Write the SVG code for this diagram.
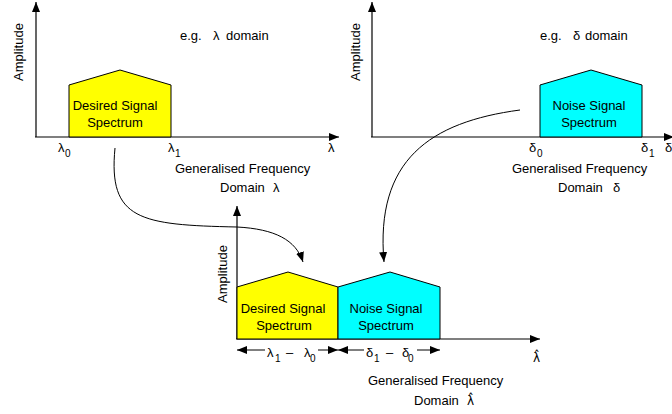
<svg xmlns="http://www.w3.org/2000/svg" width="672" height="414" viewBox="0 0 672 414">
<style>
text{font-family:"Liberation Sans",Arial,sans-serif;font-size:13px;fill:#000}
.sub{font-size:10px}
.hat{font-family:"DejaVu Sans",sans-serif;font-size:12px}
.ax{stroke:#000;stroke-width:1.2;fill:none}
.conn{stroke:#000;stroke-width:1;fill:none}
.yel{fill:#ffff00;stroke:#000;stroke-width:1}
.cya{fill:#00ffff;stroke:#000;stroke-width:1}
.mid{text-anchor:middle}
</style>
<defs>
<marker id="ah" markerUnits="userSpaceOnUse" markerWidth="11" markerHeight="8" refX="10" refY="4" orient="auto">
<path d="M0,0 L10,4 L0,8 z" fill="#000"/>
</marker>
</defs>
<rect width="672" height="414" fill="#fff"/>

<g id="panel-lambda">
<line class="ax" x1="36" y1="137" x2="36" y2="2" marker-end="url(#ah)"/>
<line class="ax" x1="35" y1="137" x2="339" y2="137" marker-end="url(#ah)"/>
<text class="mid" transform="translate(23,52) rotate(-90)">Amplitude</text>
<text x="180" y="40">e.g.</text>
<text x="213" y="40">λ</text>
<text x="226" y="40">domain</text>
<text x="58" y="152">λ</text><text class="sub" x="65" y="157">0</text>
<text x="168" y="152">λ</text><text class="sub" x="175" y="157">1</text>
<text x="328" y="152">λ</text>
<text x="175" y="173">Generalised Frequency</text>
<text x="220" y="192">Domain</text>
<text x="273" y="192">λ</text>
</g>

<g id="desired-spectrum">
<polygon class="yel" points="69,137 69,85 120,70 171,85 171,137"/>
<text class="mid" x="115" y="110">Desired Signal</text>
<text class="mid" x="115" y="127">Spectrum</text>
</g>

<g id="panel-delta">
<line class="ax" x1="372" y1="137" x2="372" y2="2" marker-end="url(#ah)"/>
<line class="ax" x1="371" y1="137" x2="674" y2="137" marker-end="url(#ah)"/>
<text class="mid" transform="translate(360,52) rotate(-90)">Amplitude</text>
<text x="540" y="40">e.g.</text>
<text x="573" y="40">δ</text>
<text x="585" y="40">domain</text>
<text x="529" y="152">δ</text><text class="sub" x="537" y="157">0</text>
<text x="641" y="152">δ</text><text class="sub" x="649" y="157">1</text>
<text x="665" y="152">δ</text>
<text x="512" y="173">Generalised Frequency</text>
<text x="558" y="192">Domain</text>
<text x="613" y="192">δ</text>
</g>

<g id="noise-spectrum">
<polygon class="cya" points="540,137 540,85 591,70 642,85 642,137"/>
<text class="mid" x="589" y="110">Noise Signal</text>
<text class="mid" x="589" y="127">Spectrum</text>
</g>

<g id="panel-combined">
<line class="ax" x1="237" y1="339" x2="237" y2="206" marker-end="url(#ah)"/>
<line class="ax" x1="236" y1="339" x2="540" y2="339" marker-end="url(#ah)"/>
<text class="mid" transform="translate(227,274) rotate(-90)">Amplitude</text>
<text class="hat" x="533" y="362">λ̂</text>
<text x="368" y="385">Generalised Frequency</text>
<text x="414" y="405">Domain</text>
<text class="hat" x="467" y="405">λ̂</text>
</g>

<g id="combined-desired">
<polygon class="yel" points="237,339 237,287 288,272 338,287 338,339"/>
<text class="mid" x="283" y="313">Desired Signal</text>
<text class="mid" x="284" y="330">Spectrum</text>
</g>

<g id="combined-noise">
<polygon class="cya" points="338,339 338,287 390,272 440,287 440,339"/>
<text class="mid" x="386" y="313">Noise Signal</text>
<text class="mid" x="386" y="330">Spectrum</text>
</g>

<g id="bandwidths">
<line class="conn" x1="265" y1="350" x2="237" y2="350" marker-end="url(#ah)"/>
<line class="conn" x1="318" y1="350" x2="338" y2="350" marker-end="url(#ah)"/>
<text x="267" y="357">λ</text><text class="sub" x="275" y="362">1</text>
<text x="286" y="357">–</text>
<text x="304" y="357">λ</text><text class="sub" x="310" y="362">0</text>
<line class="conn" x1="364" y1="350" x2="338" y2="350" marker-end="url(#ah)"/>
<line class="conn" x1="417" y1="350" x2="440" y2="350" marker-end="url(#ah)"/>
<text x="366" y="357">δ</text><text class="sub" x="374" y="362">1</text>
<text x="386" y="357">–</text>
<text x="402" y="357">δ</text><text class="sub" x="408" y="362">0</text>
</g>

<g id="connectors">
<path class="conn" d="M115,148 C108,220 140,225 237,227 C275,229 296,240 303,262" marker-end="url(#ah)"/>
<path class="conn" d="M520,110 C430,122 375,160 384,262" marker-end="url(#ah)"/>
</g>
</svg>
